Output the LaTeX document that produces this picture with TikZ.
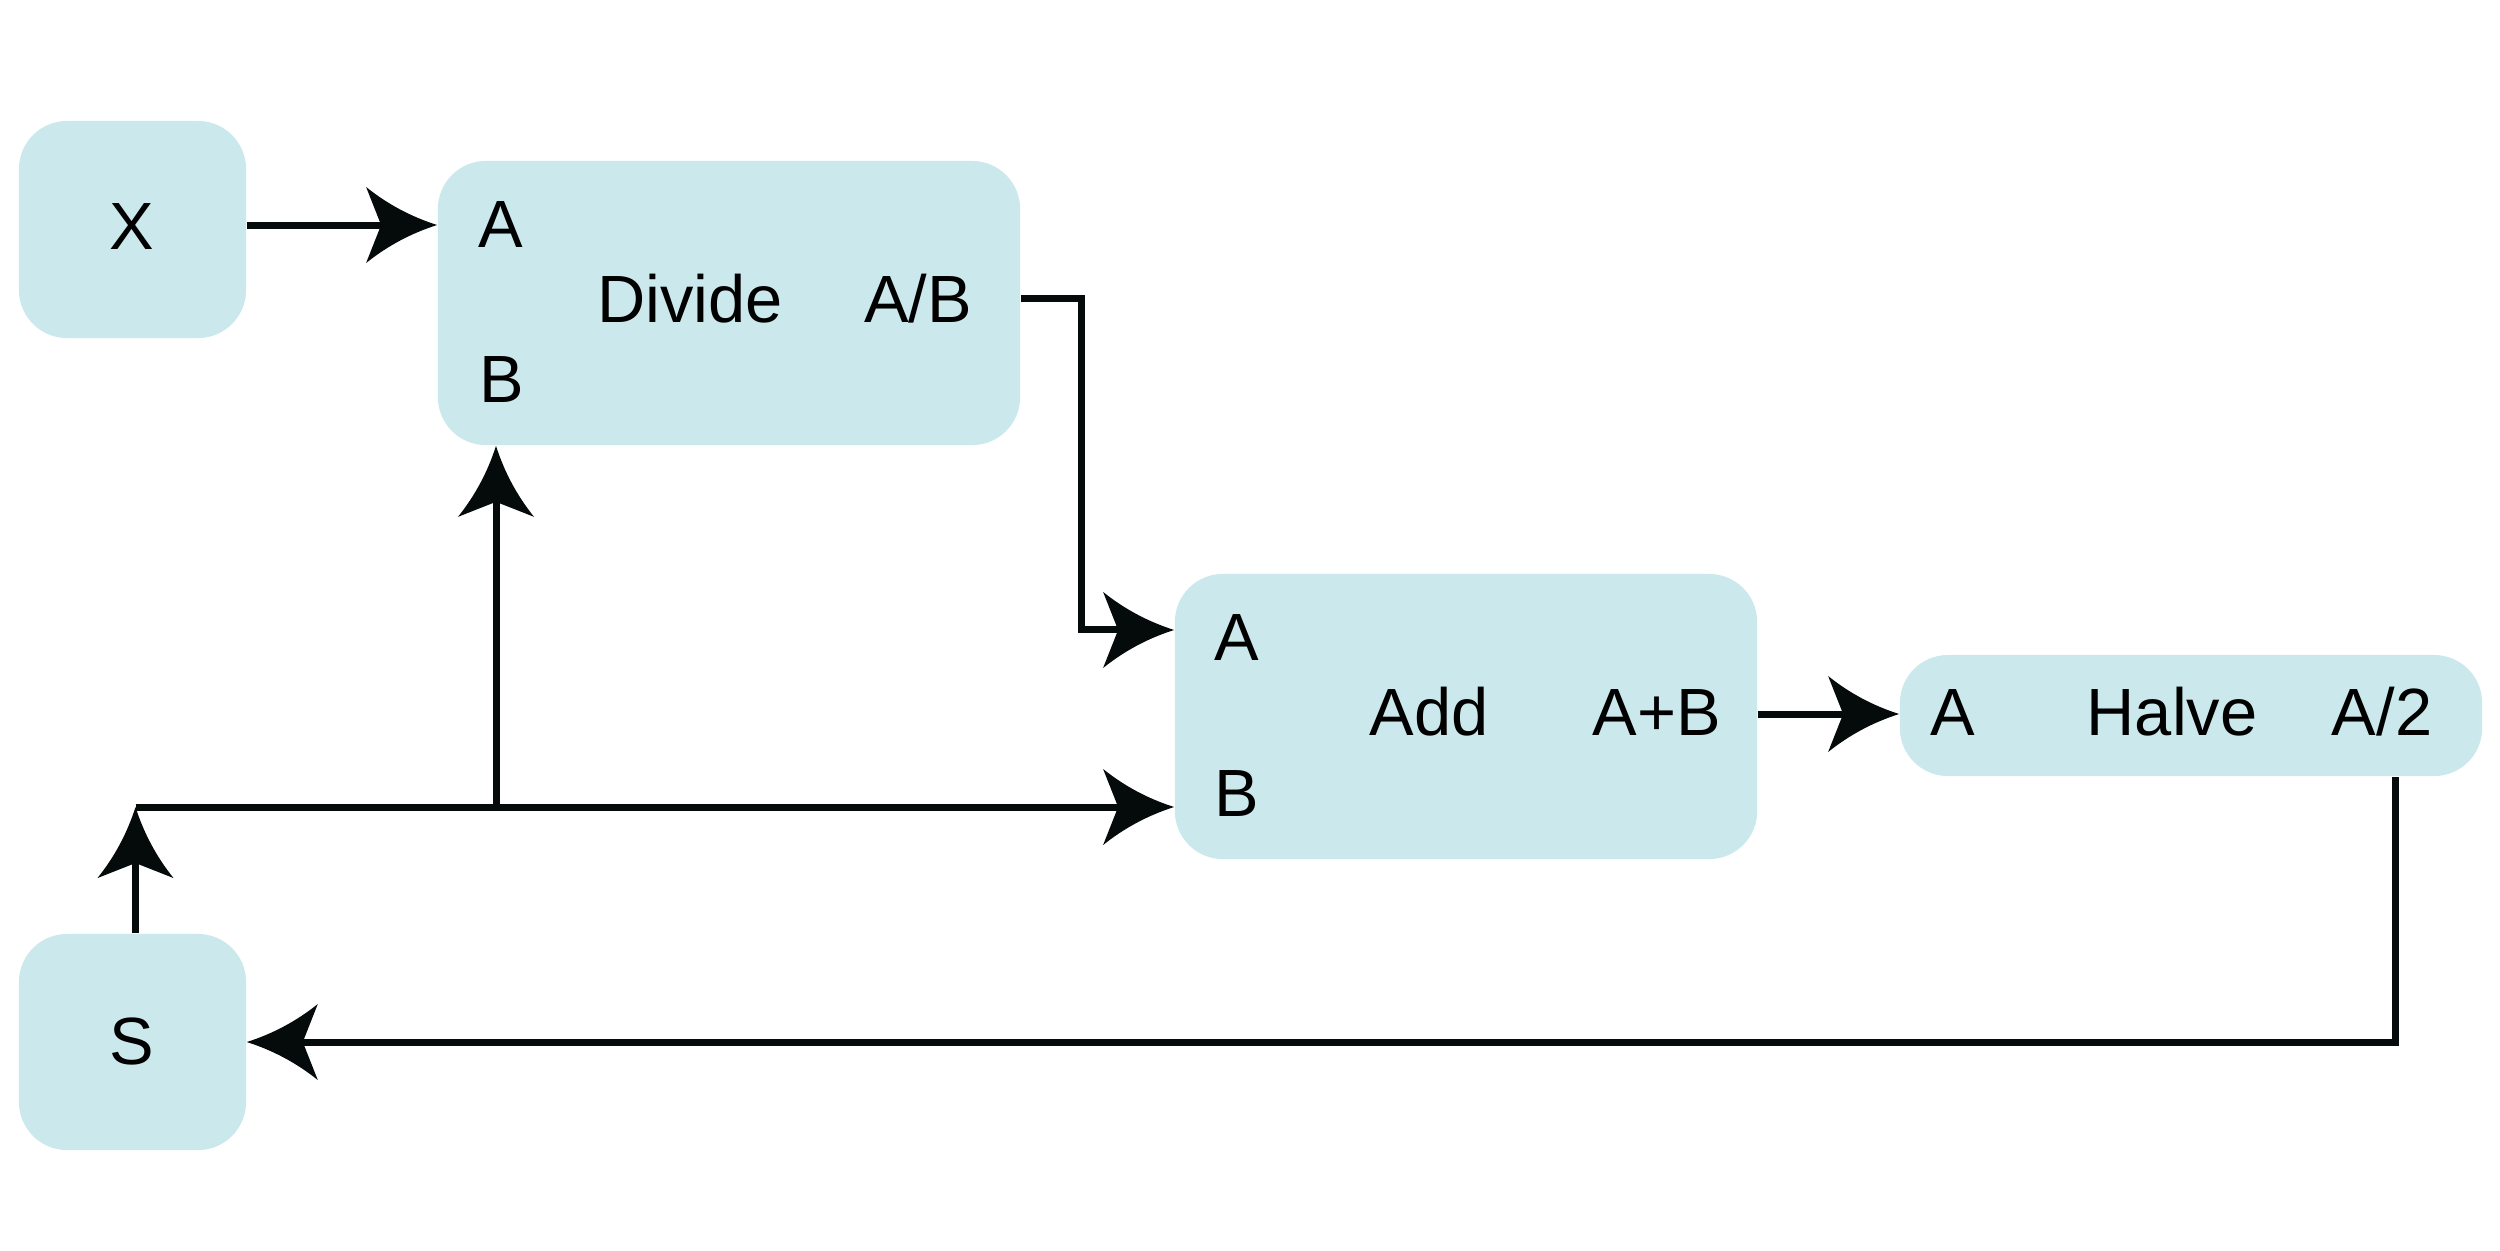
\documentclass[tikz,border=0pt]{standalone}
\usepackage{fontspec}
\setmainfont{Liberation Sans}

% Swept arrow head with slightly concave sides
\pgfdeclarearrow{
  name = Swept,
  setup code = {
    \pgfarrowssettipend{0pt}
    \pgfarrowssetbackend{-0.71cm}
    \pgfarrowssetlineend{-0.5cm}
    \pgfarrowssetvisualbackend{-0.56cm}
  },
  drawing code = {
    \pgfpathmoveto{\pgfpoint{0cm}{0cm}}
    \pgfpathcurveto{\pgfpoint{-0.261cm}{0.083cm}}{\pgfpoint{-0.497cm}{0.209cm}}{\pgfpoint{-0.71cm}{0.38cm}}
    \pgfpathlineto{\pgfpoint{-0.56cm}{0cm}}
    \pgfpathlineto{\pgfpoint{-0.71cm}{-0.38cm}}
    \pgfpathcurveto{\pgfpoint{-0.497cm}{-0.209cm}}{\pgfpoint{-0.261cm}{-0.083cm}}{\pgfpoint{0cm}{0cm}}
    \pgfpathclose
    \pgfusepathqfill
  }
}

\definecolor{boxfill}{RGB}{203,233,236}
\definecolor{ink}{RGB}{5,10,10}

\begin{document}
\begin{tikzpicture}[x=0.01cm, y=-0.01cm,
  box/.style={fill=boxfill, draw=none, rounded corners=0.48cm, inner sep=0pt},
  lbl/.style={inner sep=0pt, text height=0.49cm, text depth=0pt,
              font=\fontsize{19}{23}\selectfont, text=black},
  conn/.style={draw=ink, line width=0.07cm, -Swept}]

\useasboundingbox (0,0) rectangle (2500,1250);

% blocks
\node[box, minimum width=2.27cm, minimum height=2.17cm] (x) at (132.5,229.5) {};
\node[box, minimum width=5.82cm, minimum height=2.84cm] (divide) at (729,303) {};
\node[box, minimum width=5.82cm, minimum height=2.85cm] (add) at (1466,716.5) {};
\node[box, minimum width=5.82cm, minimum height=1.21cm] (halve) at (2191,715.5) {};
\node[box, minimum width=2.27cm, minimum height=2.16cm] (s) at (132.5,1042) {};

% block texts
\node[lbl] (xt) at (132,225) {X};
\node[lbl] (st) at (132,1040) {S};

\node[lbl] (dA) at (501,223) {A};
\node[lbl] (dB) at (502,378) {B};
\node[lbl] (dName) at (690,298) {Divide};
\node[lbl] (dOut) at (918,298) {A/B};

\node[lbl] (aA) at (1237,636) {A};
\node[lbl] (aB) at (1237,792) {B};
\node[lbl] (aName) at (1429,711) {Add};
\node[lbl] (aOut) at (1657,711) {A+B};

\node[lbl] (hA) at (1953,711) {A};
\node[lbl] (hName) at (2172,711) {Halve};
\node[lbl] (hOut) at (2382,711) {A/2};

% connectors
\draw[conn] ([yshift=0.045cm]x.east) -- ([yshift=0.045cm]x.east -| divide.west);
\draw[conn] ([yshift=0.05cm]divide.east) -- ++(61,0) |- ([yshift=0.865cm]add.west);
\draw[conn] ([yshift=0.025cm]add.east) -- ([yshift=0.025cm]add.east -| halve.west);
\draw[conn] ([xshift=2.04cm]halve.south) |- (s.east);

\coordinate (j) at (135.5,807);
\coordinate (k) at (496,807);
\draw[conn] (s.north -| j) -- (j);
\draw[conn] (j) -- (j -| add.west);
\draw[conn] (k) -- (k |- divide.south);

\end{tikzpicture}
\end{document}
